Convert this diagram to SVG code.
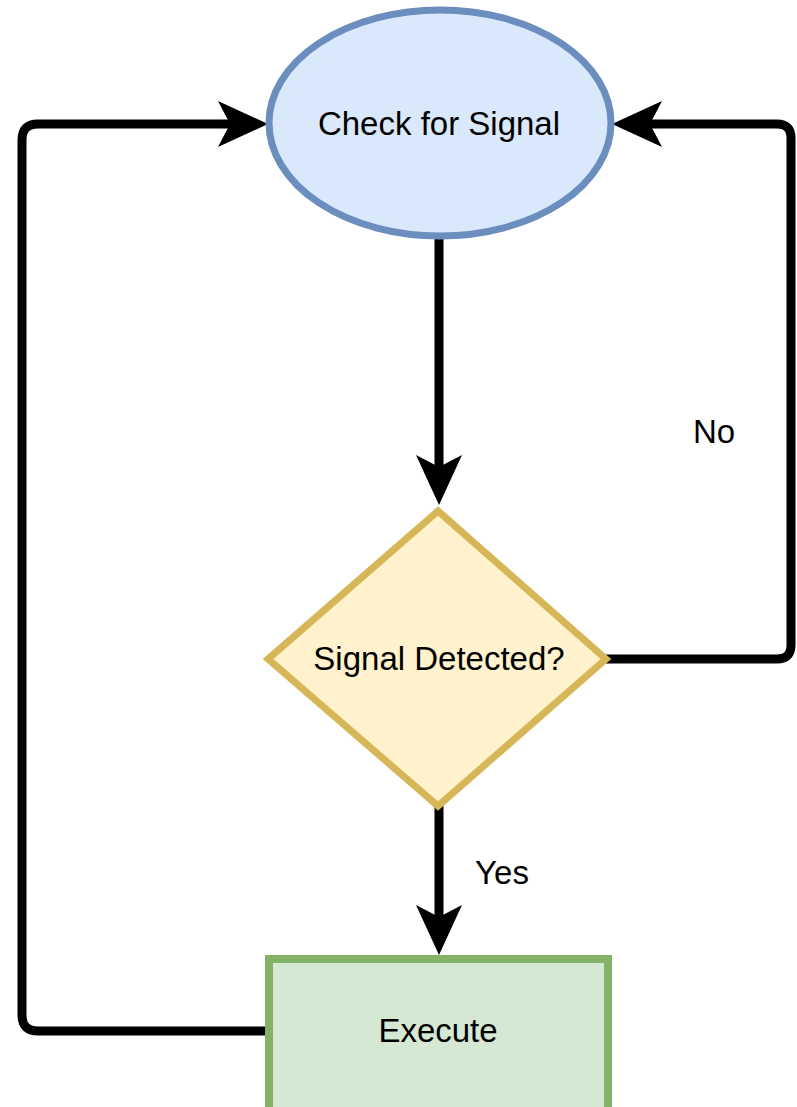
<svg xmlns="http://www.w3.org/2000/svg" width="797" height="1107" viewBox="0 0 797 1107">
<style>
.lbl{font-family:"Liberation Sans",Arial,sans-serif;font-size:33px;fill:#000;text-anchor:middle}
.conn{fill:none;stroke:#000;stroke-width:9;stroke-linejoin:round}
</style>
<defs>
<marker id="arr" markerUnits="userSpaceOnUse" viewBox="-14 -25 54 50" markerWidth="54" markerHeight="50" refX="0" refY="0" orient="auto">
<path d="M38,0 L-12,-23 L0,0 L-12,23 Z" fill="#000"/>
</marker>
</defs>
<rect width="797" height="1107" fill="#fff"/>
<g id="connectors">
<path class="conn" d="M439,236 V467" marker-end="url(#arr)"/>
<path class="conn" d="M606,659 H777 Q791,659 791,645 V138 Q791,124 777,124 H650" marker-end="url(#arr)"/>
<path class="conn" d="M439,806 V917" marker-end="url(#arr)"/>
<path class="conn" d="M265,1031 H38 Q22,1031 22,1015 V140 Q22,124 38,124 H230" marker-end="url(#arr)"/>
</g>
<g id="check">
<ellipse cx="440" cy="123" rx="171" ry="113" fill="#dae8fc" stroke="#6c8ebf" stroke-width="7"/>
<text class="lbl" x="439" y="135">Check for Signal</text>
</g>
<g id="decision">
<polygon points="438,511 606,659 438,806 268,659" fill="#fff2cc" stroke="#d6b656" stroke-width="7"/>
<text class="lbl" x="439" y="670">Signal Detected?</text>
</g>
<g id="execute">
<rect x="269" y="959" width="339" height="200" fill="#d5e8d4" stroke="#82b366" stroke-width="8"/>
<text class="lbl" x="438" y="1042">Execute</text>
</g>
<g id="labels">
<text class="lbl" x="714" y="443">No</text>
<text class="lbl" x="502" y="884">Yes</text>
</g>
</svg>
